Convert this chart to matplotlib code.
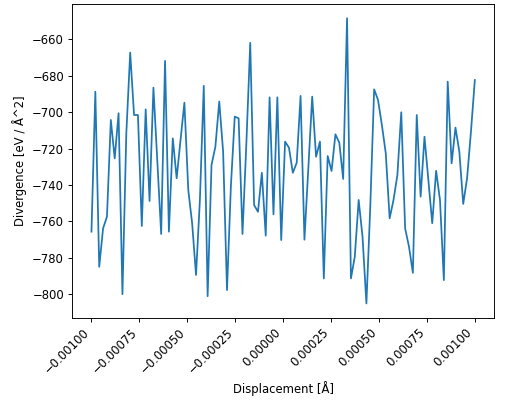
import numpy as np
import matplotlib
matplotlib.use("Agg")
from matplotlib import pyplot as plt

# displacement grid: 100 evenly spaced steps
displacement = np.linspace(-0.001, 0.001, 100)

# divergence values
divergence = [
    -765.6, -688.8, -784.9, -763.8, -757.4, -704.3, -725.4, -700.6, -799.9, -711.6,
    -667.3, -701.6, -701.6, -762.5, -698.5, -748.8, -686.6, -726.7, -766.9, -671.9,
    -765.6, -714.4, -736.3, -715.3, -694.8, -742.8, -761.0, -789.4, -748.2, -685.6,
    -801.0, -729.0, -719.0, -694.2, -721.7, -797.7, -740.9, -702.5, -703.4, -766.9,
    -717.2, -662.0, -751.0, -754.7, -733.3, -767.8, -691.9, -756.1, -691.9, -770.2,
    -716.2, -719.5, -733.3, -727.8, -691.1, -770.0, -730.9, -691.5, -724.5, -716.2,
    -791.3, -724.1, -732.3, -712.2, -716.8, -736.7, -648.5, -791.3, -779.4, -748.2,
    -768.4, -805.0, -751.9, -687.5, -693.3, -707.1, -722.6, -758.3, -748.2, -734.5,
    -700.1, -763.8, -773.9, -788.2, -701.6, -746.4, -713.5, -737.3, -761.0, -732.2,
    -748.2, -792.2, -683.3, -728.1, -708.5, -721.7, -750.4, -736.3, -710.7, -682.4,
]

# the reference looks like a default-size figure shrunk to 512x406,
# so render at a lower dpi to get the same text/line scale
DPI = 84
fig, ax = plt.subplots(figsize=(512 / DPI, 406 / DPI), dpi=DPI)
fig.subplots_adjust(left=72.3 / 512, right=494 / 512,
                    top=1 - 4 / 406, bottom=1 - 317.7 / 406)

ax.plot(displacement, divergence)
ax.set_xlabel("Displacement [Å]")
ax.set_ylabel("Divergence [eV / Å^2]")
plt.setp(ax.get_xticklabels(), rotation=45, ha="right")

fig.savefig("out.png", dpi=DPI)
